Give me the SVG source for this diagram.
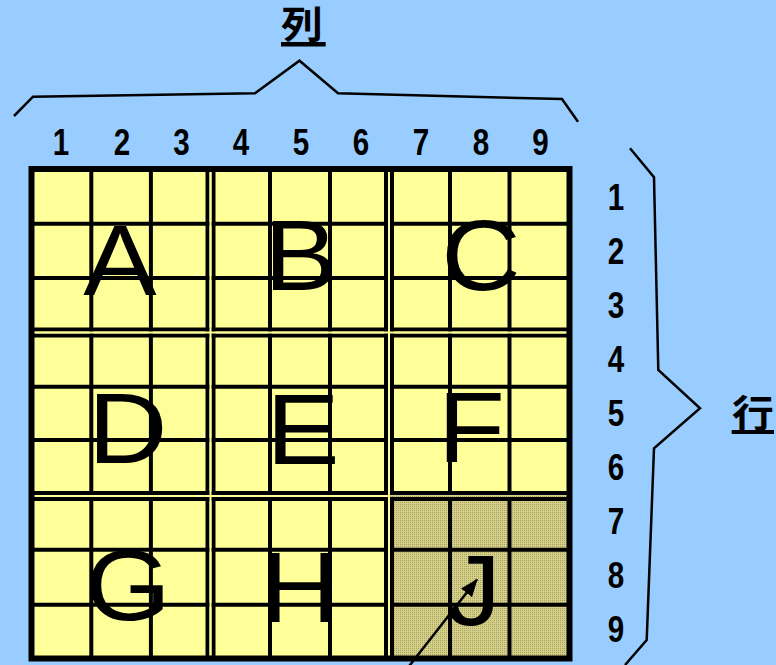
<svg xmlns="http://www.w3.org/2000/svg" width="776" height="665" viewBox="0 0 776 665">
<style>
.cell{stroke:#000;stroke-width:4;fill:none}
.sep{stroke:#000;stroke-width:4;fill:none}
.gap{stroke:#ffff99;stroke-width:2;fill:none}
.big{font-family:"Liberation Sans",Arial,sans-serif;font-size:100px;fill:#000;text-anchor:middle}
.num{font-family:"Liberation Sans",Arial,sans-serif;font-weight:bold;font-size:37px;fill:#000;text-anchor:middle}
.cjk{font-family:"Liberation Sans","Noto Sans CJK JP",sans-serif;font-weight:bold;font-size:38px;fill:#000;text-anchor:middle}
.brace{stroke:#000;stroke-width:2.5;fill:none;stroke-linejoin:miter}
</style>
<defs>
<pattern id="dots" width="2" height="2" patternUnits="userSpaceOnUse">
<rect width="2" height="2" fill="#d4cf8a"/>
<rect width="1" height="1" fill="#a9a35c"/>
</pattern>
<marker id="ah" viewBox="0 0 18 14" refX="17" refY="7" markerWidth="18" markerHeight="14" orient="auto" markerUnits="userSpaceOnUse">
<path d="M0,0 L18,7 L0,14 z" fill="#000"/>
</marker>
</defs>
<rect width="776" height="665" fill="#99ccff"/>

<g id="grid">
<rect x="31.5" y="169" width="538" height="489.5" fill="#ffff99"/>
<rect x="389" y="496" width="180.5" height="162.5" fill="url(#dots)"/>
<g class="cell">
<line x1="91.3" y1="169" x2="91.3" y2="658"/>
<line x1="150.9" y1="169" x2="150.9" y2="658"/>
<line x1="270" y1="169" x2="270" y2="658"/>
<line x1="330" y1="169" x2="330" y2="658"/>
<line x1="450" y1="169" x2="450" y2="658"/>
<line x1="509.5" y1="169" x2="509.5" y2="658"/>
<line x1="31" y1="223.7" x2="569" y2="223.7"/>
<line x1="31" y1="278" x2="569" y2="278"/>
<line x1="31" y1="386.7" x2="569" y2="386.7"/>
<line x1="31" y1="440" x2="569" y2="440"/>
<line x1="31" y1="549.8" x2="569" y2="549.8"/>
<line x1="31" y1="604.8" x2="569" y2="604.8"/>
</g>
<g class="sep">
<line x1="207.5" y1="169" x2="207.5" y2="658"/>
<line x1="213.5" y1="169" x2="213.5" y2="658"/>
<line x1="386" y1="169" x2="386" y2="658"/>
<line x1="392" y1="169" x2="392" y2="658"/>
<line x1="31" y1="329.5" x2="569" y2="329.5"/>
<line x1="31" y1="335.5" x2="569" y2="335.5"/>
<line x1="31" y1="493" x2="569" y2="493"/>
<line x1="31" y1="499" x2="569" y2="499"/>
</g>
<g class="gap">
<line x1="210.5" y1="172" x2="210.5" y2="655.5"/>
<line x1="389" y1="172" x2="389" y2="655.5"/>
<line x1="34.5" y1="332.5" x2="566.5" y2="332.5"/>
<line x1="34.5" y1="496" x2="389" y2="496"/>
<line x1="390" y1="496" x2="566.5" y2="496" stroke="url(#dots)"/>
</g>
<rect x="31.5" y="169" width="538" height="489.5" fill="none" stroke="#000" stroke-width="6"/>
</g>

<g id="block-A"><text class="big" transform="translate(120,295) scale(1.1,1)">A</text></g>
<g id="block-B"><text class="big" transform="translate(300.7,290) scale(1.1,1)">B</text></g>
<g id="block-C"><text class="big" transform="translate(481,289.5) scale(1.1,1)">C</text></g>
<g id="block-D"><text class="big" transform="translate(127.7,463) scale(1.1,1)">D</text></g>
<g id="block-E"><text class="big" transform="translate(303,464) scale(1.1,1)">E</text></g>
<g id="block-F"><text class="big" transform="translate(471.4,462) scale(1.1,1)">F</text></g>
<g id="block-G"><text class="big" transform="translate(128,620) scale(1.1,1)">G</text></g>
<g id="block-H"><text class="big" transform="translate(300,622) scale(1.1,1)">H</text></g>
<g id="block-J"><text class="big" transform="translate(473.8,625) scale(1.1,1)">J</text></g>

<g id="col-numbers">
<text class="num" transform="translate(61,155) scale(0.8,1)">1</text>
<text class="num" transform="translate(122,155) scale(0.8,1)">2</text>
<text class="num" transform="translate(181.5,155) scale(0.8,1)">3</text>
<text class="num" transform="translate(241,155) scale(0.8,1)">4</text>
<text class="num" transform="translate(301,155) scale(0.8,1)">5</text>
<text class="num" transform="translate(361,155) scale(0.8,1)">6</text>
<text class="num" transform="translate(421,155) scale(0.8,1)">7</text>
<text class="num" transform="translate(481,155) scale(0.8,1)">8</text>
<text class="num" transform="translate(540.5,155) scale(0.8,1)">9</text>
</g>
<g id="row-numbers">
<text class="num" transform="translate(616,210) scale(0.8,1)">1</text>
<text class="num" transform="translate(616,264) scale(0.8,1)">2</text>
<text class="num" transform="translate(616,318) scale(0.8,1)">3</text>
<text class="num" transform="translate(616,372) scale(0.8,1)">4</text>
<text class="num" transform="translate(616,426) scale(0.8,1)">5</text>
<text class="num" transform="translate(616,480) scale(0.8,1)">6</text>
<text class="num" transform="translate(616,534) scale(0.8,1)">7</text>
<text class="num" transform="translate(616,588) scale(0.8,1)">8</text>
<text class="num" transform="translate(616,642) scale(0.8,1)">9</text>
</g>

<g id="col-title">
<polyline class="brace" points="14,116 33,96.7 255,93.3 299.5,60.7 338,93.3 562,99 578,121.7"/>
<text class="cjk" transform="translate(302,38) scale(1.1,1)">列</text>
<rect x="281" y="42" width="44.7" height="4.5" fill="#000"/>
</g>
<g id="row-title">
<polyline class="brace" points="630,148.3 654,177.3 658.3,370 700,408.3 654,448.3 646.7,640 625,665"/>
<text class="cjk" transform="translate(753,427) scale(1.1,1)">行</text>
<rect x="731.7" y="430" width="42.3" height="4" fill="#000"/>
</g>

<g id="connectors">
<line x1="404.5" y1="672" x2="477" y2="579.5" stroke="#000" stroke-width="2.5" marker-end="url(#ah)"/>
</g>
</svg>
